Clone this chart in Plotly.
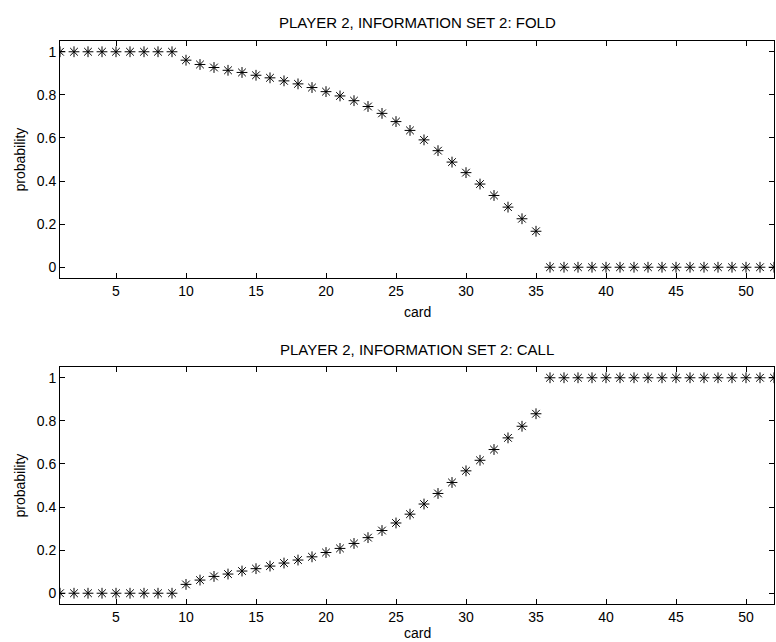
import plotly.graph_objects as go

# Card index and the two action probabilities for player 2, information set 2
cards = list(range(1, 53))

fold_prob = (
    [1.0] * 9
    + [0.961, 0.941, 0.927, 0.914, 0.904, 0.891, 0.879, 0.865, 0.851, 0.834,
       0.815, 0.795, 0.773, 0.746, 0.714, 0.676, 0.635, 0.591, 0.541, 0.488,
       0.439, 0.386, 0.333, 0.279, 0.225, 0.167]
    + [0.0] * 17
)

call_prob = (
    [0.0] * 9
    + [0.041, 0.061, 0.078, 0.089, 0.103, 0.114, 0.126, 0.140, 0.154, 0.169,
       0.189, 0.208, 0.231, 0.258, 0.291, 0.326, 0.367, 0.414, 0.463, 0.514,
       0.568, 0.617, 0.667, 0.721, 0.775, 0.833]
    + [1.0] * 17
)

panel_titles = ["PLAYER 2, INFORMATION SET 2: FOLD", "PLAYER 2, INFORMATION SET 2: CALL"]
x_ticks = [5, 10, 15, 20, 25, 30, 35, 40, 45, 50]
y_ticks = [0, 0.2, 0.4, 0.6, 0.8, 1]
y_tick_text = ["0", "0.2", "0.4", "0.6", "0.8", "1"]

W, H = 776, 642
FONT = "Liberation Sans, Arial, Helvetica, sans-serif"

fig = go.Figure()

marker = dict(symbol="asterisk-open", size=9, color="black",
              line=dict(color="black", width=1))

fig.add_trace(go.Scatter(x=cards, y=fold_prob, mode="markers", marker=marker,
                         xaxis="x", yaxis="y", showlegend=False))
fig.add_trace(go.Scatter(x=cards, y=call_prob, mode="markers", marker=marker,
                         xaxis="x2", yaxis="y2", showlegend=False))

axis_common = dict(
    showline=True, linecolor="black", linewidth=1, mirror="ticks",
    ticks="inside", ticklen=5, tickcolor="black", tickwidth=1,
    showgrid=False, zeroline=False, automargin=False,
    tickfont=dict(family=FONT, size=14, color="black"),
)

# pixel rows of the two plot boxes
top_box = (41, 278)
bot_box = (367, 604)


def dom(box):
    return [1 - box[1] / H, 1 - box[0] / H]


fig.update_layout(
    width=W, height=H,
    margin=dict(l=60, r=2, t=0, b=0),
    paper_bgcolor="white", plot_bgcolor="white",
    xaxis=dict(axis_common, range=[1, 52], tickvals=x_ticks, anchor="y"),
    yaxis=dict(axis_common, range=[-0.05, 1.05], tickvals=y_ticks,
               ticktext=y_tick_text, domain=dom(top_box), anchor="x"),
    xaxis2=dict(axis_common, range=[1, 52], tickvals=x_ticks, anchor="y2"),
    yaxis2=dict(axis_common, range=[-0.05, 1.05], tickvals=y_ticks,
                ticktext=y_tick_text, domain=dom(bot_box), anchor="x2"),
)

plot_w = W - 60 - 2


def px_x(p):
    return (p - 60) / plot_w


def px_y(p):
    return 1 - p / H


title_font = dict(family=FONT, size=15, color="black")
text_font = dict(family=FONT, size=14, color="black")
annotations = []
for title, box, card_y in [(panel_titles[0], top_box, 312), (panel_titles[1], bot_box, 633)]:
    annotations.append(dict(text=title, x=0.5, y=px_y(box[0] - 18), xref="paper", yref="paper",
                            xanchor="center", yanchor="middle", showarrow=False, font=title_font))
    annotations.append(dict(text="card", x=0.5, y=px_y(card_y), xref="paper", yref="paper",
                            xanchor="center", yanchor="middle", showarrow=False, font=text_font))
    annotations.append(dict(text="probability", x=px_x(19), y=px_y((box[0] + box[1]) / 2),
                            xref="paper", yref="paper", xanchor="center", yanchor="middle",
                            textangle=-90, showarrow=False, font=text_font))
fig.update_layout(annotations=annotations)

fig.write_html("out.html")
